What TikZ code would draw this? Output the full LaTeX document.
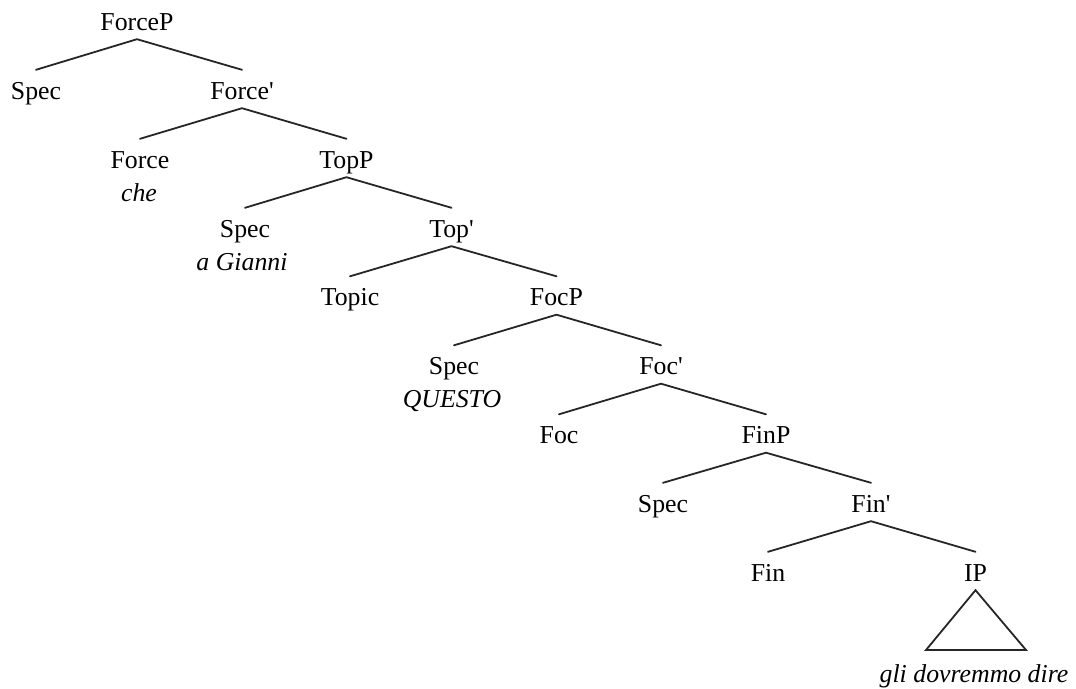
\documentclass[tikz,border=0pt]{standalone}
\usepackage{fontspec}
\setmainfont[Ligatures=TeXOff]{Liberation Serif}
\newcommand{\prm}{\char"0027\relax}
\begin{document}
\begin{tikzpicture}[x=1pt,y=1pt,
  lbl/.style={anchor=base,inner sep=0pt,text height=29pt,text depth=9pt,
    font=\fontsize{25.8}{30}\selectfont},
  ital/.style={anchor=base,inner sep=0pt,font=\fontsize{25.8}{30}\selectfont\itshape},
  branch/.style={draw=black!85,line width=1.8pt,line cap=round}]
\useasboundingbox (0,0) rectangle (1076,-688);
% spine
\node[lbl] (forcep) at (137,-30) {ForceP};
\node[lbl] (forcebar) at (242,-99) {Force\prm};
\node[lbl] (topp) at (346.5,-168) {TopP};
\node[lbl] (topbar) at (451.5,-237) {Top\prm};
\node[lbl] (focp) at (556.5,-305.5) {FocP};
\node[lbl] (focbar) at (661,-374.5) {Foc\prm};
\node[lbl] (finp) at (766,-443.5) {FinP};
\node[lbl] (finbar) at (871,-512) {Fin\prm};
\node[lbl] (ip) at (975.5,-581) {IP};
% left daughters
\node[lbl] (spec1) at (36,-99) {Spec};
\node[lbl] (force) at (140,-168) {Force};
\node[ital] (che) at (139,-201) {che};
\node[lbl] (spec2) at (245,-237) {Spec};
\node[ital] (gianni) at (242,-270) {a Gianni};
\node[lbl] (topic) at (350,-305.5) {Topic};
\node[lbl] (spec3) at (454,-374.5) {Spec};
\node[ital] (questo) at (452,-407.5) {QUESTO};
\node[lbl] (foc) at (559,-443.5) {Foc};
\node[lbl] (spec4) at (663,-512) {Spec};
\node[lbl] (fin) at (768,-581) {Fin};
% branches
\foreach \p/\l/\r in {forcep/spec1/forcebar, forcebar/force/topp, topp/spec2/topbar,
  topbar/topic/focp, focp/spec3/focbar, focbar/foc/finp, finp/spec4/finbar, finbar/fin/ip}{
  \draw[branch] (\l.north) -- (\p.south) -- (\r.north);
}
% triangle
\coordinate (trl) at (926,-650);
\coordinate (trr) at (1026,-650);
\draw[branch,line join=miter] (ip.south) -- (trl) -- (trr) -- cycle;
\node[ital] (ipterm) at (974,-682) {gli dovremmo dire};
\end{tikzpicture}
\end{document}
